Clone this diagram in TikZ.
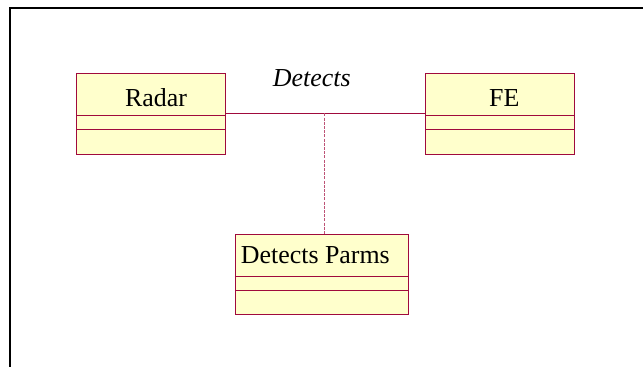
\documentclass[tikz,border=0pt]{standalone}
\usepackage{fontspec}
\setmainfont{Liberation Serif}
\begin{document}
\begin{tikzpicture}[x=1bp,y=-1bp,
  umlclass/.style={draw=umlred,fill=umlfill,line width=1bp,rectangle,inner sep=0pt,
    minimum width=149bp,minimum height=80.7bp},
  lbl/.style={font=\fontsize{26}{30}\selectfont,inner sep=0pt,anchor=base west},
  assoc/.style={draw=umlred,line width=0.8bp},
  assocdash/.style={draw=umlred!70,line width=0.8bp,dash pattern=on 3bp off 1.2bp}]
\definecolor{umlred}{RGB}{160,10,60}
\definecolor{umlfill}{RGB}{255,255,204}
\useasboundingbox (0,0) rectangle (643,366);
% outer frame (runs off the right and bottom edges)
\draw[line width=2bp] (10,370) -- (10,7.5) -- (650,7.5);
% classes
\node[umlclass] (radar) at (151.2,113.65) {};
\node[umlclass] (fe) at (500.2,113.65) {};
\node[umlclass,minimum width=173.4bp,minimum height=80bp] (parms) at (322,274.3) {};
% compartments
\draw[umlred,line width=0.8bp] (radar.west |- 0,115.3) -- (radar.east |- 0,115.3)
  (radar.west |- 0,129.3) -- (radar.east |- 0,129.3);
\draw[umlred,line width=1.6bp] (radar.south west) -- (radar.south east);
\draw[umlred,line width=0.8bp] (fe.west |- 0,115.3) -- (fe.east |- 0,115.3)
  (fe.west |- 0,129.3) -- (fe.east |- 0,129.3);
\draw[umlred,line width=1.6bp] (fe.south west) -- (fe.south east);
\draw[umlred,line width=0.8bp] (parms.west |- 0,276.7) -- (parms.east |- 0,276.7)
  (parms.west |- 0,290.3) -- (parms.east |- 0,290.3);
% names
\node[lbl] (radarname) at (125,106.7) {Radar};
\node[lbl] (fename) at (489,106.7) {FE};
\node[lbl] (parmsname) at (240.7,263.3) {Detects Parms};
% association and its class link
\draw[assoc] (radar.east |- 0,113.3) -- (fe.west |- 0,113.3);
\coordinate (mid) at (324,113.3);
\draw[assocdash] (mid) -- (mid |- parms.north);
\node[lbl,font=\fontsize{26}{30}\selectfont\itshape] (assocname) at (272.7,86) {Detects};
\end{tikzpicture}
\end{document}
